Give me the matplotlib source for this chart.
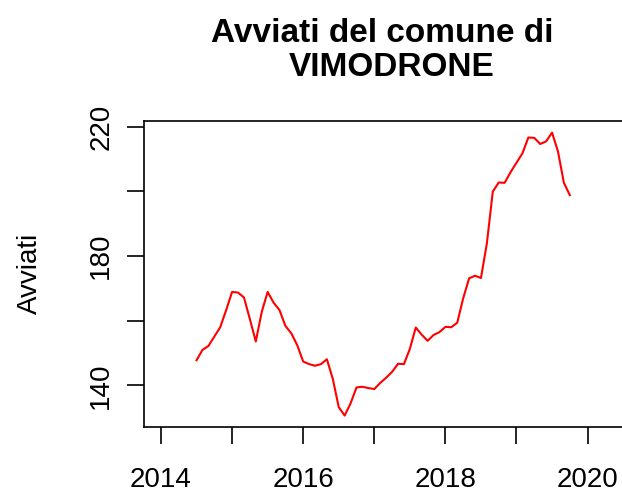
import matplotlib
matplotlib.use("Agg")
import matplotlib.pyplot as plt
import numpy as np

plt.rcParams['font.family'] = ['Liberation Sans', 'DejaVu Sans']

# Monthly series starting July 2014
start_year = 2014
start_month = 7
avviati = [147.8, 151.0, 152.2, 155.1, 158.0, 163.3, 168.9, 168.7, 167.2, 160.5,
           153.6, 162.7, 168.9, 165.6, 163.3, 158.4, 156.1, 152.4, 147.4, 146.6,
           146.1, 146.6, 148.1, 142.0, 133.3, 130.7, 134.5, 139.4, 139.6, 139.2,
           138.9, 140.8, 142.4, 144.2, 146.7, 146.6, 151.3, 157.9, 155.7, 153.8,
           155.6, 156.5, 158.1, 158.0, 159.4, 166.9, 173.1, 173.9, 173.2, 183.9,
           199.9, 202.7, 202.6, 205.9, 208.8, 211.7, 216.6, 216.5, 214.6, 215.4,
           218.1, 212.3, 202.6, 198.8]
months = np.arange(len(avviati))
t = start_year + (start_month - 1) / 12 + months / 12

x_ticks = [2014, 2015, 2016, 2017, 2018, 2019, 2020]
x_labels = ['2014', '', '2016', '', '2018', '', '2020']
y_ticks = [140, 160, 180, 200, 220]
y_labels = ['140', '', '180', '', '220']

W, H = 622, 493
fig = plt.figure(figsize=(W / 100, H / 100), dpi=100)
left, right, top, bottom = 144, 634, 121, 426.5
ax = fig.add_axes([left / W, 1 - bottom / H, (right - left) / W, (bottom - top) / H])
ax.plot(t, avviati, color='#ff0000', lw=1.5)
ax.set_xlim(2013.761, 2014 + (right - 161) / 71.1)
ax.set_ylim(127.33, 221.7)
ax.set_xticks(x_ticks)
ax.set_xticklabels(x_labels)
ax.set_yticks(y_ticks)
ax.set_yticklabels(y_labels, rotation=90, va='center')
ax.tick_params(axis='both', length=12.5, width=1.2, labelsize=20, color='black')
ax.tick_params(axis='x', pad=17)
ax.tick_params(axis='y', pad=9)
for s in ax.spines.values():
    s.set_linewidth(1.2)
    s.set_color('black')
fig.text(30 / W, 1 - 273.5 / H, 'Avviati', rotation=90, fontsize=20,
         ha='center', va='center')
fig.text(382 / W, 1 - 41.7 / H, 'Avviati del comune di', fontsize=24,
         fontweight='bold', ha='center', va='baseline')
fig.text(391.7 / W, 1 - 76 / H, 'VIMODRONE', fontsize=24,
         fontweight='bold', ha='center', va='baseline')
fig.savefig('out.png', dpi=100)
